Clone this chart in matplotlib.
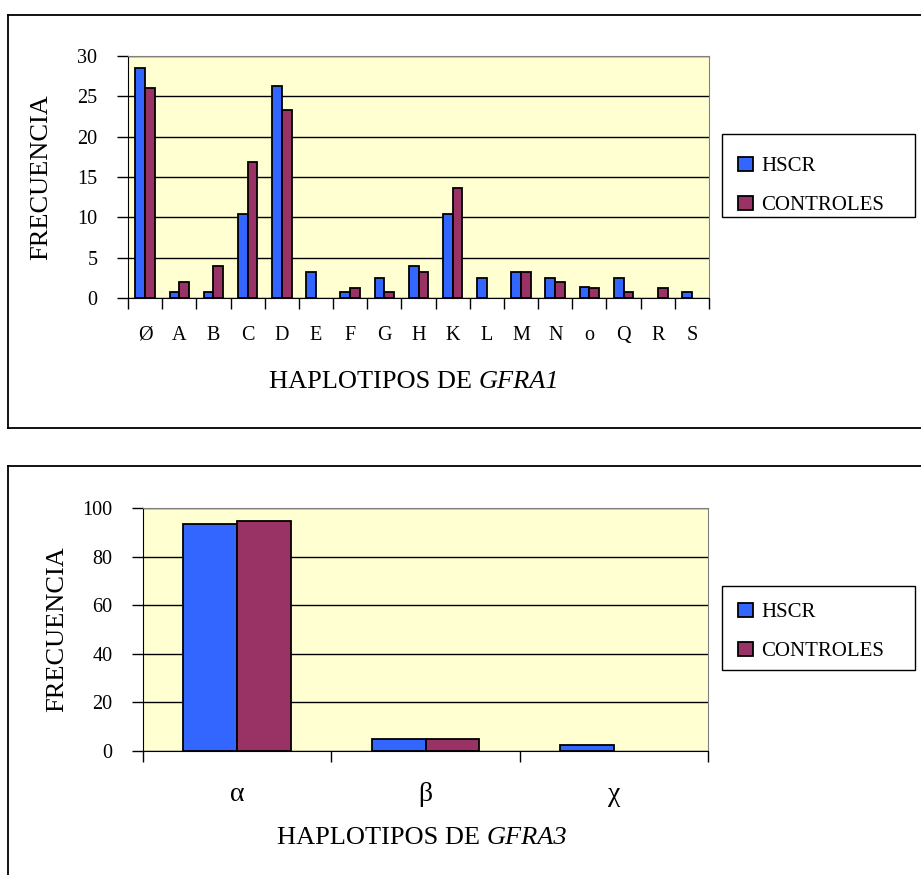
import numpy as np
import matplotlib
matplotlib.use("Agg")
import matplotlib.pyplot as plt
from matplotlib.lines import Line2D
from matplotlib.patches import Rectangle

plt.rcParams['font.family'] = ['Liberation Serif', 'DejaVu Serif']

#data
gfra1_labels = ["Ø", "A", "B", "C", "D", "E", "F", "G", "H", "K", "L", "M", "N", "o", "Q", "R", "S"]
gfra1_hscr = [28.5, 0.8, 0.8, 10.4, 26.3, 3.2, 0.8, 2.5, 4.0, 10.4, 2.5, 3.2, 2.5, 1.4, 2.5, 0.0, 0.8]
gfra1_ctrl = [26.0, 2.0, 4.0, 16.8, 23.3, 0.0, 1.2, 0.7, 3.2, 13.6, 0.0, 3.2, 2.0, 1.2, 0.7, 1.2, 0.0]

gfra3_labels = ["α", "β", "χ"]
gfra3_hscr = [93.3, 5.1, 2.6]
gfra3_ctrl = [94.8, 5.1, 0.0]

series_names = ["HSCR", "CONTROLES"]
blue = "#3366FF"
maroon = "#993366"

W, H = 921, 875
fig = plt.figure(figsize=(W / 100, H / 100), dpi=100)


def fx(px):
    return px / W


def fy(py):
    return 1 - py / H


# panel borders
lw_b = 1.3
fig.add_artist(Line2D([fx(8), 1.0], [fy(15), fy(15)], color="black", lw=lw_b))
fig.add_artist(Line2D([fx(8), fx(8)], [fy(15), fy(428)], color="black", lw=lw_b))
fig.add_artist(Line2D([fx(8), 1.0], [fy(428), fy(428)], color="black", lw=lw_b))
fig.add_artist(Line2D([fx(8), 1.0], [fy(466), fy(466)], color="black", lw=lw_b))
fig.add_artist(Line2D([fx(8), fx(8)], [fy(466), 0.0], color="black", lw=lw_b))


def bar_panel(rect, labels, hscr, ctrl, ymax, ystep, ylabelpad, xlab_pad, xlab_size,
              xlabel_y, split_x, gene, leg_top, leg_bottom, leg_first):
    ax = fig.add_axes(rect)
    n = len(labels)
    x = np.arange(n)
    w = 1 / 3.5
    hscr = np.array(hscr)
    ctrl = np.array(ctrl)
    # zero-height bars are not drawn
    m1 = hscr > 0
    m2 = ctrl > 0
    b1 = ax.bar(x[m1] - w / 2, hscr[m1], w, color=blue, edgecolor="black", linewidth=1.3, zorder=3)
    b2 = ax.bar(x[m2] + w / 2, ctrl[m2], w, color=maroon, edgecolor="black", linewidth=1.3, zorder=3)
    ax.set_xlim(-0.5, n - 0.5)
    ax.set_ylim(0, ymax)
    ax.set_facecolor("#FFFFD2")
    ax.set_yticks(np.arange(0, ymax + 0.1, ystep))
    ax.yaxis.grid(True, color="black", lw=1.0, zorder=1)
    ax.set_axisbelow(True)
    ax.set_xticks(np.arange(-0.5, n, 1.0))
    ax.set_xticklabels([])
    ax.set_xticks(x, minor=True)
    ax.set_xticklabels(labels, minor=True, fontsize=xlab_size)
    ax.tick_params(axis="x", which="major", direction="out", length=8, width=1, color="black")
    ax.tick_params(axis="x", which="minor", length=0, pad=xlab_pad)
    ax.tick_params(axis="y", direction="out", length=8, width=1, labelsize=14.5, pad=14)
    for s in ["top", "right"]:
        ax.spines[s].set_color("#808080")
    ax.spines["left"].set_color("black")
    ax.spines["bottom"].set_color("black")
    ax.set_ylabel("FRECUENCIA", fontsize=19, labelpad=ylabelpad)
    fig.text(fx(split_x), fy(xlabel_y), "HAPLOTIPOS DE ", fontsize=19, ha="right", va="center")
    fig.text(fx(split_x), fy(xlabel_y), gene, fontsize=19, ha="left", va="center", style="italic")
    # legend frame
    fig.add_artist(Rectangle((fx(722), fy(leg_bottom)), fx(915) - fx(722), fy(leg_top) - fy(leg_bottom),
                             transform=fig.transFigure, facecolor="white", edgecolor="black", lw=1.0))
    fig.legend(handles=[b1[0], b2[0]], labels=series_names,
               loc="upper left", bbox_to_anchor=(fx(738), fy(leg_first - 7)),
               fontsize=15, frameon=False,
               handlelength=0.7, handleheight=0.65, handletextpad=0.4,
               labelspacing=0.95, borderpad=0, borderaxespad=0)
    return ax


ax1 = bar_panel([fx(128), fy(298), fx(709) - fx(128), fy(56) - fy(298)],
                gfra1_labels, gfra1_hscr, gfra1_ctrl, 30, 5, 18, 20, 14.5,
                382, 479, "GFRA1", 134, 217, 164)

ax2 = bar_panel([fx(143), fy(751), fx(708) - fx(143), fy(508) - fy(751)],
                gfra3_labels, gfra3_hscr, gfra3_ctrl, 100, 20, 10, 22, 20,
                838, 487, "GFRA3", 586, 670, 610)

fig.savefig("out.png", dpi=100)
